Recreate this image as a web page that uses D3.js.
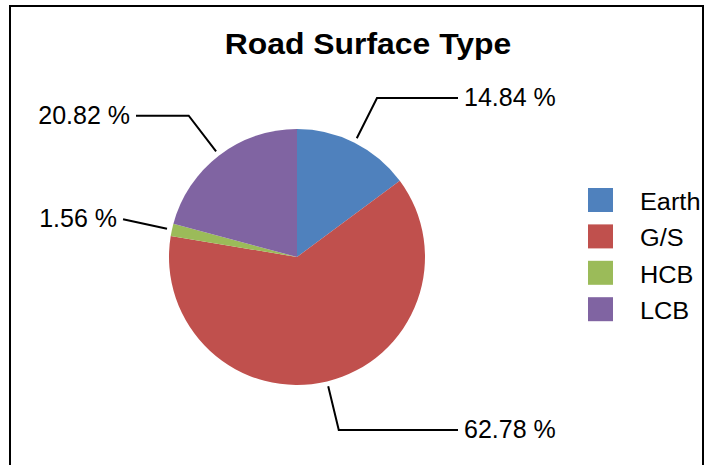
<!DOCTYPE html>
<html>
<head>
<meta charset="utf-8">
<script src="https://cdn.jsdelivr.net/npm/d3@7"></script>
<style>
  body { margin: 0; background: #fff; }
  svg { font-family: "Liberation Sans", Arial, sans-serif; }
</style>
</head>
<body>
<div id="chart"></div>
<script>
// Données
const categories = ["Earth", "G/S", "HCB", "LCB"];
const shares = [14.84, 62.78, 1.56, 20.82];
const colors = ["#4F81BD", "#C0504D", "#9BBB59", "#8064A2"];

const width = 711, height = 465;
const cx = 297, cy = 257, radius = 128;

// élargit un peu le texte (la police d'origine est plus large)
function stretch(sel, k) {
    sel.each(function () {
        const len = this.getComputedTextLength();
        d3.select(this).attr("textLength", len * k).attr("lengthAdjust", "spacingAndGlyphs");
    });
}

const svg = d3.select("#chart")
    .append("svg")
    .attr("width", width)
    .attr("height", height);

// Cadre
svg.append("rect")
    .attr("x", 10).attr("y", 6)
    .attr("width", 693).attr("height", 470)
    .attr("fill", "none")
    .attr("stroke", "#000")
    .attr("stroke-width", 2);

// Titre
svg.append("text")
    .attr("x", 368).attr("y", 54)
    .attr("text-anchor", "middle")
    .style("font-size", "29px")
    .style("font-weight", "bold")
    .text("Road Surface Type")
    .call(stretch, 1.1);

const data = categories.map((c, i) => ({ name: c, value: shares[i], color: colors[i] }));

const pie = d3.pie().value(d => d.value).sort(null);
const arc = d3.arc().innerRadius(0).outerRadius(radius);
const arcs = pie(data);

const g = svg.append("g").attr("transform", `translate(${cx},${cy})`);

g.selectAll("path")
    .data(arcs)
    .join("path")
    .attr("d", arc)
    .attr("fill", d => d.data.color);

// Lignes de rappel et étiquettes
const startArc = d3.arc().innerRadius(radius + 5).outerRadius(radius + 5);
const elbowArc = d3.arc().innerRadius(radius + 50).outerRadius(radius + 50);
const lineX = 161, textX = 167;

arcs.forEach(d => {
    const mid = (d.startAngle + d.endAngle) / 2;
    const right = mid < Math.PI;
    const p0 = startArc.centroid(d);
    const p1 = elbowArc.centroid(d);
    const xEnd = right ? Math.max(lineX, p1[0]) : Math.min(-lineX, p1[0]);
    const p2 = [xEnd, p1[1]];
    g.append("polyline")
        .attr("points", [p0, p1, p2].map(p => p.join(",")).join(" "))
        .attr("fill", "none")
        .attr("stroke", "#000")
        .attr("stroke-width", 2);
    g.append("text")
        .attr("x", right ? xEnd + 6 : xEnd - 6)
        .attr("y", p1[1] - 1)
        .attr("dy", "0.35em")
        .attr("text-anchor", right ? "start" : "end")
        .style("font-size", "25px")
        .text(d.data.value.toFixed(2) + " %");
});

// Légende
const legend = svg.append("g").attr("transform", "translate(588,188)");
const row = legend.selectAll("g")
    .data(data)
    .join("g")
    .attr("transform", (d, i) => `translate(0,${i * 36.4})`);
row.append("rect")
    .attr("width", 25).attr("height", 24)
    .attr("fill", d => d.color);
row.append("text")
    .attr("x", 52).attr("y", 14)
    .attr("dy", "0.35em")
    .style("font-size", "23px")
    .text(d => d.name)
    .call(stretch, 1.1);
</script>
</body>
</html>
